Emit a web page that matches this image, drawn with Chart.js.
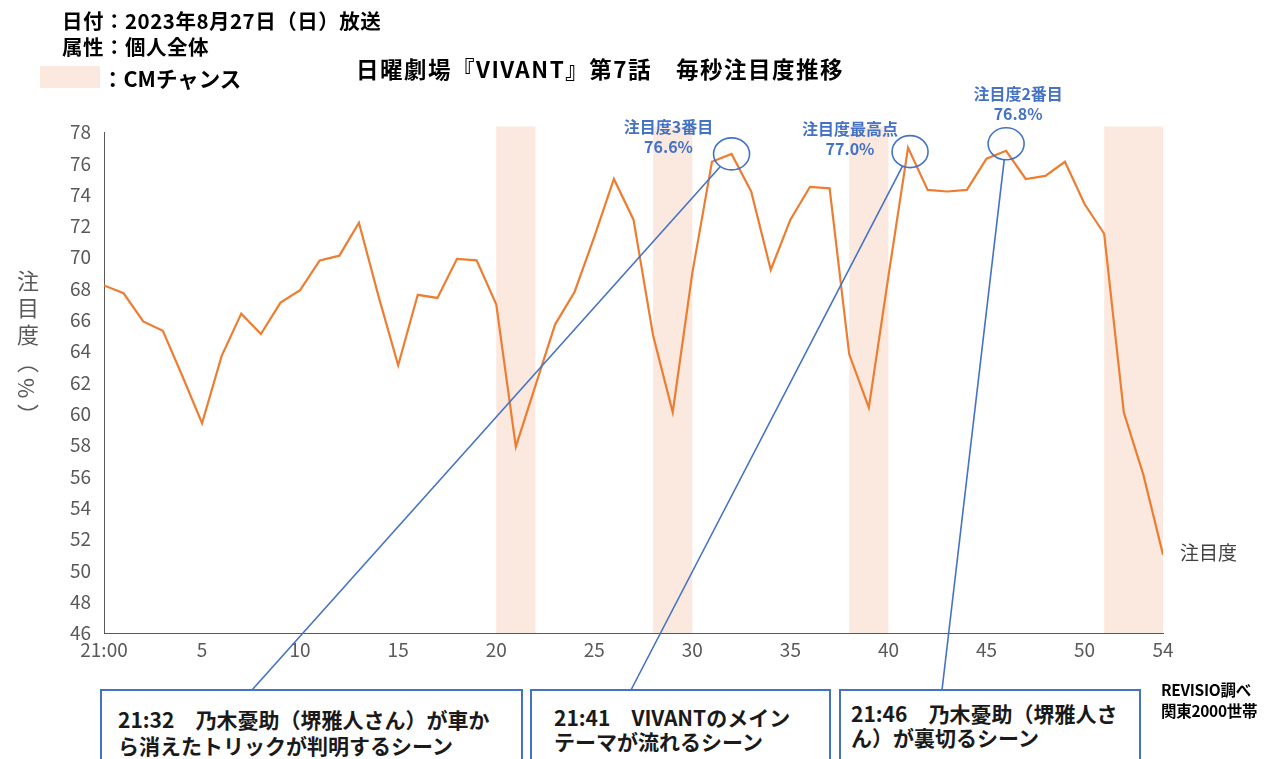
<!DOCTYPE html>
<html lang="ja">
<head>
<meta charset="utf-8">
<script src="https://cdn.jsdelivr.net/npm/chart.js@4.4.1/dist/chart.umd.min.js"></script>
<style>
  html,body{margin:0;padding:0;background:#fff;}
  body{width:1267px;height:759px;position:relative;overflow:hidden;font-family:"Noto Sans CJK JP","Noto Sans",sans-serif;color:#000;}
  #wrap{position:absolute;left:0;top:0;width:1267px;height:759px;}
  .t{position:absolute;white-space:nowrap;}
  .hdr{font-weight:bold;font-size:20.5px;line-height:26px;left:62px;letter-spacing:0.5px;}
  .cmkey{position:absolute;left:40px;top:66px;width:60px;height:22px;background:#fbe9df;}
  .box{position:absolute;top:689px;height:90px;border:2px solid #4472c4;background:#fff;box-sizing:border-box;font-weight:bold;font-size:21px;color:#1a1a1a;}
  .yt{position:absolute;left:12px;top:270px;writing-mode:vertical-rl;font-size:22px;color:#595959;letter-spacing:5px;}
</style>
</head>
<body>
<div id="wrap"><canvas id="c" width="1267" height="759"></canvas></div>

<div class="t hdr" style="top:7px;">日付：2023年8月27日（日）放送</div>
<div class="t hdr" style="top:33px;">属性：個人全体</div>
<div class="cmkey"></div>
<div class="t" style="left:102px;top:63px;font-weight:bold;font-size:21.5px;line-height:30px;">：CMチャンス</div>
<div class="t" style="left:356px;top:52px;font-weight:bold;font-size:22.5px;line-height:32px;letter-spacing:1.5px;">日曜劇場『VIVANT』第7話　毎秒注目度推移</div>

<div class="yt">注目度（%）</div>
<div class="t" style="left:1180px;top:539px;font-size:19px;line-height:26px;color:#404040;">注目度</div>
<div class="t" style="left:1161px;top:679px;font-weight:bold;font-size:15.5px;line-height:21px;letter-spacing:-0.3px;">REVISIO調べ<br>関東2000世帯</div>

<div class="box" style="left:100px;width:423px;padding:15px 0 0 16px;line-height:26px;">21:32　乃木憂助（堺雅人さん）が車か<br>ら消えたトリックが判明するシーン</div>
<div class="box" style="left:530px;width:301px;padding:14px 0 0 22px;line-height:24px;">21:41　VIVANTのメイン<br>テーマが流れるシーン</div>
<div class="box" style="left:839px;width:302px;padding:10px 0 0 10px;line-height:24px;">21:46　乃木憂助（堺雅人さ<br>ん）が裏切るシーン</div>

<script>
// minutes after 21:00
const minutes = [0,1,2,3,4,5,6,7,8,9,10,11,12,13,14,15,16,17,18,19,20,21,22,23,24,25,26,27,28,29,30,31,32,33,34,35,36,37,38,39,40,41,42,43,44,45,46,47,48,49,50,51,52,53,54];
// 注目度 (%)
const attention = [68.2,67.7,65.9,65.3,62.4,59.4,63.7,66.4,65.1,67.1,67.9,69.8,70.1,72.2,67.5,63.1,67.6,67.4,69.9,69.8,
  67.0,57.9,61.8,65.7,67.8,71.3,75.0,72.4,65.0,60.1,69.0,76.1,76.6,74.2,69.2,72.4,74.5,74.4,63.8,60.4,
  68.8,77.0,74.3,74.2,74.3,76.3,76.8,75.0,75.2,76.1,73.4,71.5,60.1,56.1,51.0];
const tickValues = [0,5,10,15,20,25,30,35,40,45,50,54];
const tickLabels = ['21:00','5','10','15','20','25','30','35','40','45','50','54'];
// CM chance ranges (minutes)
const cmStart = [20,28,38,51];
const cmEnd   = [22,30,40,54];
// highlighted peaks
const peakMinutes = [32,41,46];
const peakTitles = ['注目度3番目','注目度最高点','注目度2番目'];

// annotation placement (pixels, relative to the point)
const peakStyle = [
  {cx:0, cy:0,  lx:-63, ly:-27, to:[252,690]},
  {cx:2, cy:4,  lx:-58, ly:-19, to:[631,690]},
  {cx:0, cy:-7, lx:12,  ly:-57, to:[942,690]}
];

const BLUE = '#4472c4';

const overlay = {
  id:'overlay',
  beforeDatasetsDraw(chart){
    const {ctx, scales:{x,y}} = chart;
    ctx.save();
    ctx.fillStyle = '#fbe9df';
    const top = y.getPixelForValue(78.35), bot = y.getPixelForValue(46);
    cmStart.forEach((s,i)=>{
      const x0 = x.getPixelForValue(s), x1 = x.getPixelForValue(cmEnd[i]);
      ctx.fillRect(x0, top, x1-x0, bot-top);
    });
    ctx.restore();
  },
  afterDatasetsDraw(chart){
    const {ctx, scales:{x,y}} = chart;
    ctx.save();
    peakMinutes.forEach((m,i)=>{
      const v = attention[minutes.indexOf(m)];
      const st = peakStyle[i];
      const px = x.getPixelForValue(m), py = y.getPixelForValue(v);
      const cx = px+st.cx, cy = py+st.cy, rx = 18, ry = 16;
      ctx.strokeStyle = BLUE; ctx.lineWidth = 1.6;
      ctx.beginPath(); ctx.ellipse(cx, cy, rx, ry, 0, 0, Math.PI*2); ctx.stroke();
      // connector to the scene box
      const dx = st.to[0]-cx, dy = st.to[1]-cy;
      const k = 1/Math.sqrt((dx/rx)*(dx/rx)+(dy/ry)*(dy/ry));
      ctx.beginPath(); ctx.moveTo(cx+dx*k, cy+dy*k); ctx.lineTo(st.to[0], st.to[1]); ctx.stroke();
      // label
      ctx.fillStyle = BLUE; ctx.textAlign = 'center'; ctx.textBaseline = 'middle';
      ctx.font = 'bold 16px "Noto Sans CJK JP", sans-serif';
      ctx.fillText(peakTitles[i], px+st.lx, py+st.ly);
      ctx.fillText(v.toFixed(1)+'%', px+st.lx, py+st.ly+20);
    });
    ctx.restore();
  }
};

new Chart(document.getElementById('c'), {
  type:'line',
  data:{ datasets:[{ label:'注目度', data: minutes.map((m,i)=>({x:m, y:attention[i]})),
    borderColor:'#ed7d31', borderWidth:2.2, pointRadius:0, tension:0, fill:false }]},
  options:{
    responsive:false, animation:false,
    layout:{ padding:{ left:40, right:104, top:132, bottom:86 } },
    plugins:{ legend:{display:false}, tooltip:{enabled:false} },
    scales:{
      x:{ type:'linear', min:0, max:54,
        afterFit(s){ s.height = 40; },
        afterBuildTicks(s){ s.ticks = tickValues.map(v=>({value:v})); },
        ticks:{ autoSkip:false, maxRotation:0, padding:5, color:'#595959', font:{size:19, family:'"Noto Sans CJK JP", sans-serif'},
          callback(v){ const i = tickValues.indexOf(v); return i<0 ? '' : tickLabels[i]; } },
        grid:{ display:false, drawTicks:false },
        border:{ display:true, color:'#595959', width:1 } },
      y:{ min:46, max:78,
        afterFit(s){ s.width = 64; },
        ticks:{ stepSize:2, padding:13, color:'#595959', font:{size:19, family:'"Noto Sans CJK JP", sans-serif'} },
        grid:{ display:false, drawTicks:false },
        border:{ display:true, color:'#595959', width:1 } }
    }
  },
  plugins:[overlay]
});
</script>
</body>
</html>
